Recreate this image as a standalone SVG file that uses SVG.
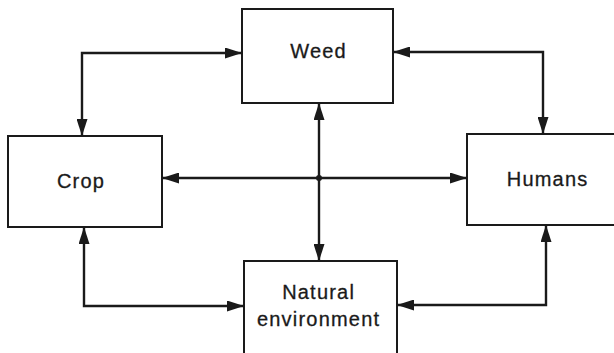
<svg xmlns="http://www.w3.org/2000/svg" width="614" height="353" viewBox="0 0 614 353">
  <style>
    .box { fill: #ffffff; stroke: #1a1a1a; stroke-width: 2; }
    .link { fill: none; stroke: #1a1a1a; stroke-width: 2.4; }
    .label { font-family: "Liberation Sans", Arial, sans-serif; font-size: 20px; letter-spacing: 1.2px; fill: #1a1a1a; stroke: #1a1a1a; stroke-width: 0.3; text-anchor: middle; }
  </style>
  <defs>
    <marker id="arrow" viewBox="0 0 17 11" refX="17" refY="5.5" markerWidth="17" markerHeight="11" markerUnits="userSpaceOnUse" orient="auto-start-reverse">
      <path d="M0,0 L17,5.5 L0,11 Z" fill="#1a1a1a"/>
    </marker>
  </defs>

  <g id="weed">
    <rect class="box" x="242" y="9" width="151" height="94"/>
    <text class="label" x="318.6" y="58">Weed</text>
  </g>
  <g id="crop">
    <rect class="box" x="8" y="136" width="154" height="91"/>
    <text class="label" x="81" y="188">Crop</text>
  </g>
  <g id="humans">
    <rect class="box" x="467" y="134" width="160" height="91"/>
    <text class="label" x="547.6" y="186">Humans</text>
  </g>
  <g id="natural-environment">
    <rect class="box" x="244" y="261" width="153" height="110"/>
    <text class="label" x="318.6" y="299">Natural</text>
    <text class="label" x="318.6" y="326">environment</text>
  </g>

  <g id="connectors">
    <path class="link" d="M82,136 V53 H242" marker-start="url(#arrow)" marker-end="url(#arrow)"/>
    <path class="link" d="M393,52 H543 V134" marker-start="url(#arrow)" marker-end="url(#arrow)"/>
    <path class="link" d="M319,103 V261" marker-start="url(#arrow)" marker-end="url(#arrow)"/>
    <path class="link" d="M162,178 H467" marker-start="url(#arrow)" marker-end="url(#arrow)"/>
    <path class="link" d="M84,227 V306 H244" marker-start="url(#arrow)" marker-end="url(#arrow)"/>
    <path class="link" d="M546,225 V305 H397" marker-start="url(#arrow)" marker-end="url(#arrow)"/>
    <circle cx="319" cy="178" r="3" fill="#1a1a1a"/>
  </g>
</svg>
